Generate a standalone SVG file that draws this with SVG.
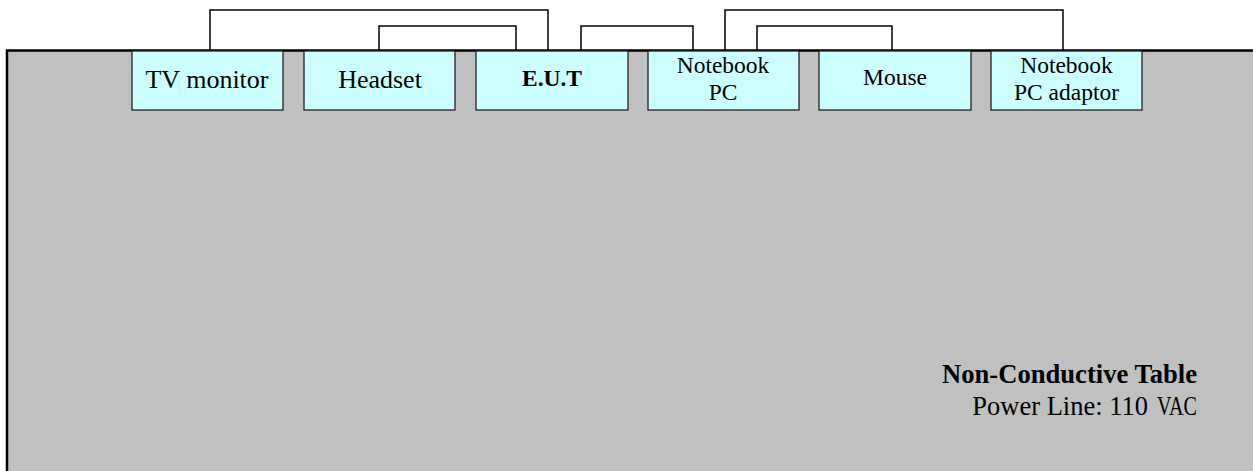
<svg xmlns="http://www.w3.org/2000/svg" width="1253" height="471" viewBox="0 0 1253 471">
<style>
.tbl{fill:#c0c0c0;stroke:#000;stroke-width:2.5}
.box{fill:#ccffff;stroke:#222;stroke-width:1.3}
.wire{fill:none;stroke:#000;stroke-width:1.5}
text{font-family:"Liberation Serif","Times New Roman",serif;fill:#000}
.c{text-anchor:middle}
</style>
<rect width="1253" height="471" fill="#fff"/>
<rect class="tbl" x="7" y="50.5" width="1260" height="440"/>
<g id="connectors">
<polyline class="wire" points="210,50 210,10 548,10 548,50"/>
<polyline class="wire" points="379,50 379,26 516,26 516,50"/>
<polyline class="wire" points="581,50 581,26 693,26 693,50"/>
<polyline class="wire" points="725,50 725,10 1063,10 1063,50"/>
<polyline class="wire" points="757,50 757,26 892,26 892,50"/>
</g>
<g id="tv-monitor"><rect class="box" x="132" y="51" width="151" height="59"/><text class="c" x="207" y="88" font-size="26">TV monitor</text></g>
<g id="headset"><rect class="box" x="304" y="51" width="151" height="59"/><text class="c" x="380" y="88" font-size="26">Headset</text></g>
<g id="eut"><rect class="box" x="476" y="51" width="152" height="59"/><text class="c" x="552" y="86" font-size="23.5" font-weight="bold">E.U.T</text></g>
<g id="notebook-pc"><rect class="box" x="648" y="51" width="151" height="59"/><text class="c" x="723" y="73" font-size="23.5">Notebook</text><text class="c" x="723" y="100" font-size="23.5">PC</text></g>
<g id="mouse"><rect class="box" x="819" y="51" width="152" height="59"/><text class="c" x="895" y="85" font-size="23.5">Mouse</text></g>
<g id="notebook-pc-adaptor"><rect class="box" x="991" y="51" width="151" height="59"/><text class="c" x="1066.5" y="73" font-size="23.5">Notebook</text><text class="c" x="1066.5" y="100" font-size="23.5">PC adaptor</text></g>
<g id="table-label">
<text x="1197" y="383" font-size="26.6" font-weight="bold" text-anchor="end">Non-Conductive Table</text>
<text x="1148" y="415" font-size="26.5" text-anchor="end">Power Line: 110</text>
<text x="1157" y="415" font-size="26.5" textLength="40" lengthAdjust="spacingAndGlyphs">VAC</text>
</g>
</svg>
